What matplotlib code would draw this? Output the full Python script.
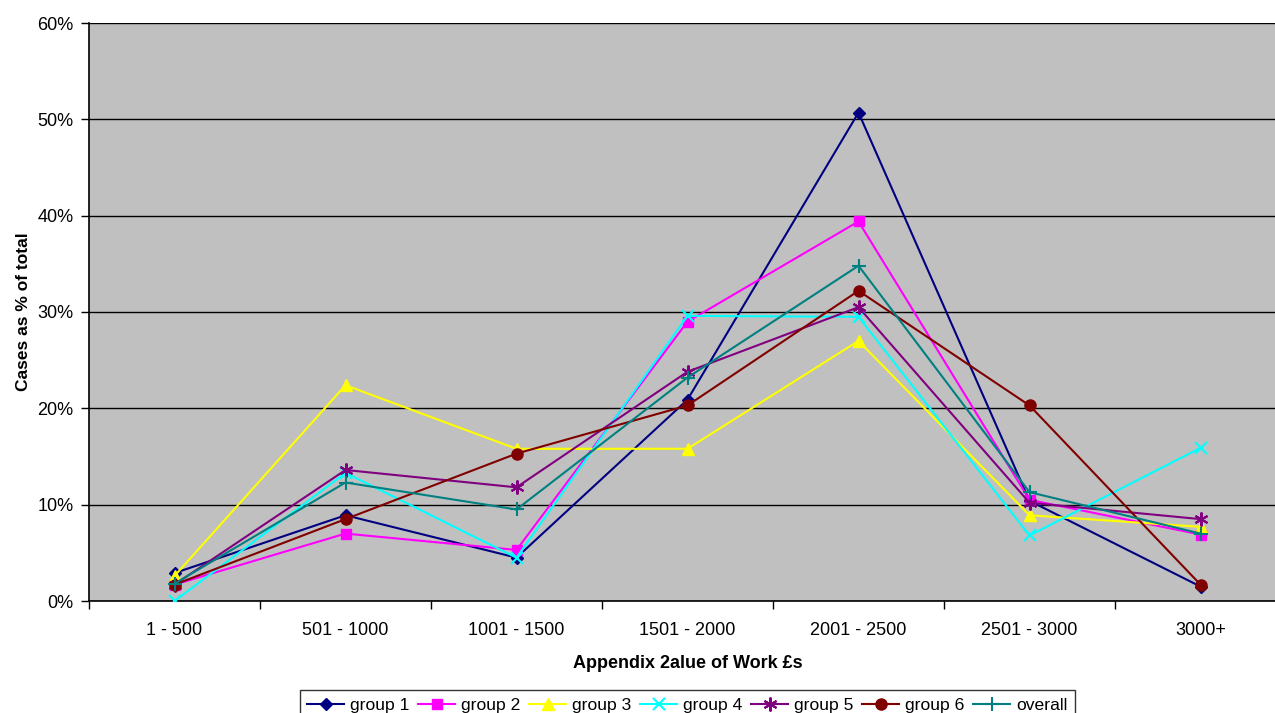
import matplotlib
matplotlib.use("Agg")
import matplotlib.pyplot as plt
from matplotlib.ticker import FixedLocator, FuncFormatter

plt.rcParams['font.family'] = ['Liberation Sans', 'DejaVu Sans']

categories = ["1 - 500", "501 - 1000", "1001 - 1500", "1501 - 2000",
              "2001 - 2500", "2501 - 3000", "3000+"]

group_1 = [2.9, 8.9, 4.5, 20.9, 50.7, 10.4, 1.5]
group_2 = [1.7, 7.0, 5.3, 29.0, 39.4, 10.5, 6.9]
group_3 = [2.6, 22.4, 15.8, 15.8, 27.0, 8.9, 7.7]
group_4 = [0.0, 13.3, 4.5, 29.6, 29.5, 6.8, 15.9]
group_5 = [1.7, 13.6, 11.8, 23.8, 30.5, 10.2, 8.5]
group_6 = [1.7, 8.5, 15.3, 20.3, 32.2, 20.3, 1.7]
overall = [1.8, 12.3, 9.5, 23.2, 34.8, 11.3, 7.0]

series = [
    ("group 1", group_1, "#000080", "D", 6),
    ("group 2", group_2, "#FF00FF", "s", 7),
    ("group 3", group_3, "#FFFF00", "^", 8),
    ("group 4", group_4, "#00FFFF", "x", 8),
    ("group 5", group_5, "#800080", (6, 2, 0), 10),
    ("group 6", group_6, "#800000", "o", 8),
    ("overall", overall, "#008080", "+", 10),
]

fig = plt.figure(figsize=(12.75, 7.13), dpi=100)
W, H = 1275, 713
left, right, top, bottom = 89, 1286, 23, 601
ax = fig.add_axes([left / W, 1 - bottom / H, (right - left) / W, (bottom - top) / H])
ax.set_facecolor("#C0C0C0")

x = list(range(len(categories)))
for name, vals, color, marker, ms in series:
    mew = 1.5 if marker in ("x", "+") or isinstance(marker, tuple) else 1
    ax.plot(x, vals, color=color, lw=1.5, marker=marker, markersize=ms,
            markeredgewidth=mew, markeredgecolor=color, markerfacecolor=color,
            label=name, zorder=3)

ax.set_xlim(-0.5, len(categories) - 0.5)
ax.set_ylim(0, 60)
ax.yaxis.set_major_locator(FixedLocator(range(0, 61, 10)))
ax.yaxis.set_major_formatter(FuncFormatter(lambda v, p: f"{int(v)}%"))
ax.grid(axis="y", color="black", lw=1, zorder=1)
ax.set_axisbelow(True)

ax.xaxis.set_major_locator(FixedLocator([i - 0.5 for i in range(len(categories) + 1)]))
ax.xaxis.set_major_formatter(FuncFormatter(lambda v, p: ""))
ax.xaxis.set_minor_locator(FixedLocator(x))
ax.set_xticklabels(categories, minor=True)
ax.tick_params(axis="x", which="minor", length=0, pad=15, labelsize=13)
ax.tick_params(axis="x", which="major", length=6, width=1, color="black", direction="out")
ax.tick_params(axis="y", length=6, width=1, color="black", direction="out", labelsize=13, pad=5)

for s in ("top", "right"):
    ax.spines[s].set_visible(False)
for s in ("left", "bottom"):
    ax.spines[s].set_color("black")
    ax.spines[s].set_linewidth(1.2)

ax.set_xlabel("Appendix 2alue of Work £s", fontsize=13, fontweight="bold", labelpad=12)
ax.set_ylabel("Cases as % of total", fontsize=12.5, fontweight="bold", labelpad=5)

leg = fig.legend(loc="upper center", bbox_to_anchor=(687.5 / W, 1 - 690 / H),
                 ncol=7, frameon=True, fancybox=False, shadow=False,
                 fontsize=12.6, handlelength=2.1, handletextpad=0.35,
                 columnspacing=0.5, borderpad=0.45, borderaxespad=0)
leg.get_frame().set_edgecolor("black")
leg.get_frame().set_linewidth(1)

fig.savefig("out.png", dpi=100)
